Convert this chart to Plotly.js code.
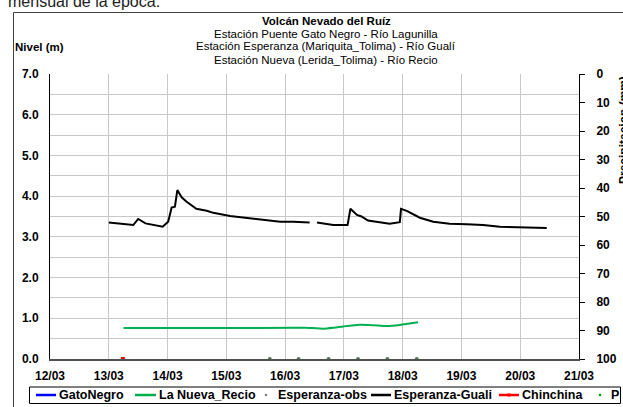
<!DOCTYPE html>
<html><head><meta charset="utf-8">
<script src="https://cdn.plot.ly/plotly-3.0.1.min.js"></script>
<style>html,body{margin:0;padding:0;background:#fff;}#chart{width:623px;height:407px;}</style>
</head><body><div id="chart"></div>
<script>
// ---------------- data ----------------
const gualiTime = [
 '2012-03-13 00:00','2012-03-13 10:00','2012-03-13 12:00','2012-03-13 15:00','2012-03-13 22:00',
 '2012-03-14 00:15','2012-03-14 01:40','2012-03-14 03:00','2012-03-14 04:00','2012-03-14 05:45',
 '2012-03-14 07:40','2012-03-14 11:45','2012-03-14 16:00','2012-03-14 18:40','2012-03-15 01:30',
 '2012-03-15 08:00','2012-03-15 15:00','2012-03-15 22:00','2012-03-16 03:20','2012-03-16 10:00',
 '2012-03-16 12:00',
 '2012-03-16 13:00','2012-03-16 19:40','2012-03-17 01:30','2012-03-17 02:40','2012-03-17 05:20',
 '2012-03-17 07:10','2012-03-17 09:50','2012-03-17 14:40','2012-03-17 18:40','2012-03-17 22:50',
 '2012-03-17 23:20','2012-03-18 01:40','2012-03-18 07:00','2012-03-18 12:30','2012-03-18 19:10',
 '2012-03-19 02:10','2012-03-19 08:50','2012-03-19 15:40','2012-03-19 22:30','2012-03-20 05:20',
 '2012-03-20 10:50'];
const gualiLevel = [
 3.35,3.29,3.44,3.33,3.25,
 3.37,3.72,3.74,4.15,3.97,
 3.87,3.69,3.64,3.59,3.51,
 3.46,3.42,3.37,3.37,3.35,
 null,
 3.35,3.29,3.29,3.69,3.54,
 3.50,3.40,3.36,3.32,3.36,
 3.69,3.64,3.47,3.37,3.32,
 3.31,3.29,3.25,3.24,3.22,
 3.22];
const recioTime = [
 '2012-03-13 06:00','2012-03-14 00:00','2012-03-15 00:00','2012-03-16 03:20','2012-03-16 08:00',
 '2012-03-16 15:40','2012-03-16 20:00','2012-03-16 23:50','2012-03-17 06:30','2012-03-17 12:00',
 '2012-03-17 17:30','2012-03-17 22:50','2012-03-18 06:15'];
const recioLevel = [0.76,0.76,0.76,0.765,0.77,0.745,0.77,0.80,0.84,0.83,0.81,0.835,0.90];
const gatoNegroTime = [];
const gatoNegroLevel = [];
const chinchinaTime = ['2012-03-13 05:45'];
const chinchinaLevel = [0];
const obsTime = ['2012-03-15 17:45','2012-03-16 05:30','2012-03-16 17:45','2012-03-17 05:45','2012-03-17 17:45','2012-03-18 05:45'];
const obsLevel = [0,0,0,0,0,0];
const precipTime = [];
const precipValue = [];
const xRange = ['2012-03-12','2012-03-21'];
const levelTicks = [0,1,2,3,4,5,6,7];
const precipTicks = [0,10,20,30,40,50,60,70,80,90,100];
const titleLines = ['<b>Volcán Nevado del Ruíz</b>','Estación Puente Gato Negro - Río Lagunilla','Estación Esperanza (Mariquita_Tolima) - Río Gualí','Estación Nueva (Lerida_Tolima) - Río Recio'];
const legendNames = ['GatoNegro','La Nueva_Recio','Esperanza-obs','Esperanza-Guali','Chinchina','P'];

// ---------------- layout helpers ----------------
const FONT = 'Arial, "Liberation Sans", sans-serif';
const L=50, T=74, W=529, H=285, B=T+H;
const px = x => (x-L)/W;
const py = y => (B-y)/H;

const traces = [
 {x:gatoNegroTime,y:gatoNegroLevel,type:'scatter',mode:'lines',name:legendNames[0],line:{color:'#0000ff',width:2},showlegend:false},
 {x:recioTime,y:recioLevel,type:'scatter',mode:'lines',name:legendNames[1],line:{color:'#00b050',width:2,shape:'spline',smoothing:0.6},showlegend:false},
 {x:obsTime,y:obsLevel,type:'scatter',mode:'markers',name:legendNames[2],marker:{color:'#4f7a55',size:4},cliponaxis:false,showlegend:false},
 {x:gualiTime,y:gualiLevel,type:'scatter',mode:'lines',name:legendNames[3],line:{color:'#000000',width:2},connectgaps:false,showlegend:false},
 {x:chinchinaTime,y:chinchinaLevel,type:'scatter',mode:'lines+markers',name:legendNames[4],line:{color:'#ff0000',width:2},marker:{color:'#ff0000',size:4,symbol:'square'},cliponaxis:false,showlegend:false},
 {x:precipTime,y:precipValue,type:'scatter',mode:'markers',name:legendNames[5],yaxis:'y2',marker:{color:'#00a000',size:3},showlegend:false}
];

const shapes = [
 // outer chart frame
 {type:'rect',xref:'paper',yref:'paper',x0:px(13.5),x1:px(700),y0:py(12.5),y1:py(500),line:{color:'#404040',width:1},layer:'below'},
 // legend box
 {type:'rect',xref:'paper',yref:'paper',x0:px(29.5),x1:px(620.5),y0:py(387),y1:py(403.5),line:{color:'#000000',width:1}}
];
const annotations = [];
// header text (cut off at top)
annotations.push({xref:'paper',yref:'paper',x:px(6),y:py(12),xanchor:'left',yanchor:'bottom',showarrow:false,text:'mensual de la época.',font:{family:FONT,size:16,color:'#222'}});
// title lines
const titleY=[20.5,33.5,46.5,59.5];
titleLines.forEach((t,i)=>annotations.push({xref:'paper',yref:'paper',x:px(326),y:py(titleY[i]),xanchor:'center',yanchor:'middle',showarrow:false,text:t,font:{family:FONT,size:11.5,color:'#000'}}));
// left axis title
annotations.push({xref:'paper',yref:'paper',x:px(13),y:py(47.5),xanchor:'left',yanchor:'middle',showarrow:false,text:'<b>Nivel (m)</b>',font:{family:FONT,size:11.5,color:'#000'}});
// right axis title
annotations.push({xref:'paper',yref:'paper',x:px(615),y:py(130),xanchor:'left',yanchor:'middle',textangle:-90,showarrow:false,text:'<b>Precipitacion (mm)</b>',font:{family:FONT,size:12,color:'#000'}});

// legend entries (symbol kind, colors, positions in px)
const legendSym = [
 {kind:'line',color:'#0000ff',x0:36,x1:56,tx:57},
 {kind:'line',color:'#00b050',x0:135,x1:156,tx:157},
 {kind:'dot',color:'#808080',x0:266,tx:276},
 {kind:'line',color:'#000000',x0:371,x1:391,tx:392},
 {kind:'linemark',color:'#ff0000',x0:499,x1:519,tx:520},
 {kind:'dot',color:'#00a000',x0:600,tx:609}
];
const LY=395;
legendSym.forEach((s,i)=>{
  if(s.kind==='line'||s.kind==='linemark'){
    shapes.push({type:'line',xref:'paper',yref:'paper',x0:px(s.x0),x1:px(s.x1),y0:py(LY),y1:py(LY),line:{color:s.color,width:2.5}});
  }
  if(s.kind==='linemark'){
    const c=(s.x0+s.x1)/2;
    shapes.push({type:'rect',xref:'paper',yref:'paper',x0:px(c-1.5),x1:px(c+1.5),y0:py(LY-1.5),y1:py(LY+1.5),fillcolor:s.color,line:{width:0}});
  }
  if(s.kind==='dot'){
    shapes.push({type:'circle',xref:'paper',yref:'paper',x0:px(s.x0-1.3),x1:px(s.x0+1.3),y0:py(LY-1.3),y1:py(LY+1.3),fillcolor:s.color,line:{width:0}});
  }
  annotations.push({xref:'paper',yref:'paper',x:px(s.tx),y:py(LY),xanchor:'left',yanchor:'middle',showarrow:false,text:'<b>'+legendNames[i]+'</b>',font:{family:FONT,size:12.5,color:'#000'}});
});

const tickFont = {family:FONT,size:12,color:'#000',weight:'bold'};
const layout = {
 width:623,height:407,
 margin:{l:L,r:623-L-W,t:T,b:407-B,pad:0},
 paper_bgcolor:'#ffffff',plot_bgcolor:'#ffffff',
 font:{family:FONT,size:12,color:'#000'},
 showlegend:false,
 xaxis:{type:'date',range:xRange,dtick:86400000,tick0:'2012-03-12',tickformat:'%d/%m',
   showgrid:true,gridcolor:'#c8c8c8',gridwidth:1,showline:true,linecolor:'#505050',linewidth:1.5,
   ticks:'',tickfont:tickFont,ticklabelstandoff:5,zeroline:false,fixedrange:true},
 yaxis:{range:[0,7],tickvals:levelTicks,tickformat:'.1f',showgrid:true,gridcolor:'#c8c8c8',gridwidth:1,
   minor:{dtick:0.5,tick0:0,showgrid:true,gridcolor:'#c8c8c8',gridwidth:1,ticks:''},
   showline:true,linecolor:'#000000',linewidth:1,ticks:'',tickfont:tickFont,ticklabelstandoff:8,zeroline:false},
 yaxis2:{overlaying:'y',side:'right',range:[100,0],tickvals:precipTicks,showgrid:false,zeroline:false,
   showline:true,linecolor:'#000000',linewidth:1,ticks:'outside',ticklen:5,tickcolor:'#000',tickwidth:1,
   tickfont:tickFont,ticklabelstandoff:9},
 yaxis3:{overlaying:'y',side:'right',range:[100,0],tickvals:precipTicks,showgrid:false,zeroline:false,
   showline:false,ticks:'inside',ticklen:5,tickcolor:'#000',tickwidth:1,showticklabels:false},
 shapes:shapes,
 annotations:annotations
};
Plotly.newPlot('chart',traces,layout,{displayModeBar:false,staticPlot:true});
</script></body></html>
